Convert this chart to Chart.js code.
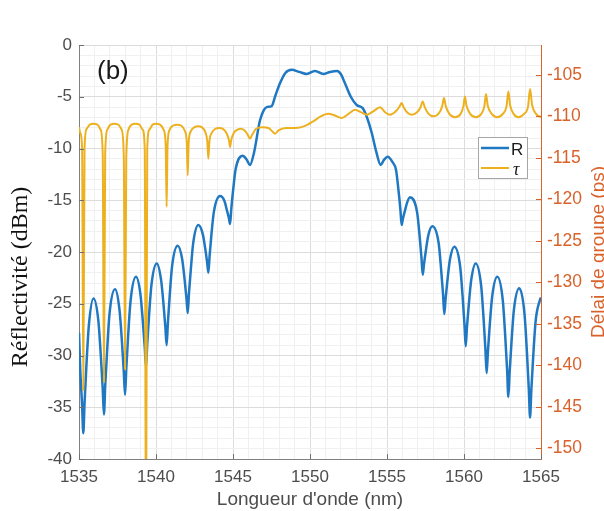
<!DOCTYPE html>
<html lang="fr">
<head>
  <meta charset="UTF-8" />
  <title>Réflectivité et délai de groupe</title>
  <script src="https://cdn.jsdelivr.net/npm/chart.js"></script>
  <style>
    body {
      margin: 0;
      background-color: #ffffff;
    }

    #wrap {
      width: 604px;
      height: 511px;
    }
  </style>
</head>
<body>

  <div id="wrap">
    <canvas id="fbgChart" width="604" height="511"></canvas>
  </div>

  <script>
    // Réflectivité R (dBm) - longueur d'onde (nm)
    const rWavelength = [
      1535.00, 1535.08, 1535.20, 1535.28, 1535.36, 1535.48, 1535.64, 1535.94,
      1536.26, 1536.42, 1536.54, 1536.62, 1536.70, 1536.82, 1536.98, 1537.34,
      1537.63, 1537.79, 1537.91, 1537.99, 1538.07, 1538.19, 1538.35, 1538.70,
      1538.99, 1539.15, 1539.27, 1539.35, 1539.43, 1539.55, 1539.71, 1540.05,
      1540.33, 1540.49, 1540.61, 1540.69, 1540.77, 1540.89, 1541.05, 1541.41,
      1541.70, 1541.86, 1541.98, 1542.06, 1542.14, 1542.26, 1542.42, 1542.75,
      1543.04, 1543.20, 1543.32, 1543.40, 1543.48, 1543.60, 1543.76, 1544.16,
      1544.45, 1544.61, 1544.73, 1544.81, 1544.89, 1545.01, 1545.17, 1545.63,
      1545.90, 1546.10, 1546.35, 1546.75, 1547.00, 1547.19, 1547.51,
      1547.75, 1548.05, 1548.40, 1548.81, 1549.30, 1549.79, 1550.32, 1550.86,
      1551.30, 1551.77, 1552.00, 1552.27, 1552.65, 1553.03, 1553.42, 1553.70,
      1554.01, 1554.30, 1554.59, 1554.80, 1555.05,
      1555.35, 1555.59, 1555.75, 1555.87, 1555.95, 1556.03, 1556.15, 1556.31, 1556.49,
      1556.96, 1557.12, 1557.24, 1557.32, 1557.40, 1557.52, 1557.68, 1557.94,
      1558.36, 1558.52, 1558.64, 1558.72, 1558.80, 1558.92, 1559.08, 1559.37,
      1559.75, 1559.91, 1560.03, 1560.11, 1560.19, 1560.31, 1560.47, 1560.76,
      1561.11, 1561.27, 1561.39, 1561.47, 1561.55, 1561.67, 1561.83, 1562.16,
      1562.52, 1562.68, 1562.80, 1562.88, 1562.96, 1563.08, 1563.24, 1563.59,
      1563.93, 1564.09, 1564.21, 1564.29, 1564.37, 1564.49, 1564.65, 1564.94, 1565.00
    ];
    const rValues = [
      -27.8, -31.3, -34.8, -37.5, -34.6, -31.0, -27.1, -24.5,
      -26.7, -30.1, -33.2, -35.7, -33.0, -29.7, -26.0, -23.6,
      -25.6, -28.7, -31.6, -33.8, -31.3, -28.1, -24.7, -22.4,
      -24.1, -26.8, -29.2, -31.1, -28.9, -26.1, -23.1, -21.1,
      -22.7, -25.1, -27.3, -29.0, -26.9, -24.2, -21.3, -19.4,
      -20.7, -22.7, -24.5, -25.9, -24.0, -21.7, -19.1, -17.4,
      -18.3, -19.7, -21.0, -22.0, -20.4, -18.3, -16.1, -14.6,
      -15.1, -16.0, -16.7, -17.3, -15.8, -14.0, -12.0, -10.7,
      -11.1, -11.6, -10.5, -7.3, -6.3, -6.0, -5.9,
      -4.9, -3.7, -2.7, -2.4, -2.6, -2.8, -2.5, -2.8,
      -2.6, -2.5, -2.8, -3.7, -5.0, -5.8, -6.1, -7.0,
      -8.5, -10.3, -11.6, -11.1, -10.8,
      -11.3, -12.1, -14.1, -15.9, -17.4, -16.8, -16.1, -15.2, -14.7,
      -16.2, -18.5, -20.6, -22.2, -21.2, -19.9, -18.4, -17.5,
      -19.2, -21.8, -24.1, -26.0, -24.6, -22.8, -20.8, -19.5,
      -21.4, -24.3, -27.0, -29.1, -27.3, -25.1, -22.7, -21.1,
      -23.2, -26.4, -29.4, -31.7, -29.7, -27.1, -24.3, -22.4,
      -24.7, -28.2, -31.4, -34.0, -31.7, -28.8, -25.6, -23.5,
      -26.0, -29.8, -33.3, -36.0, -33.4, -30.2, -26.7, -24.6, -24.4
    ];

    // Délai de groupe tau (ps) - longueur d'onde (nm)
    const tauWavelength = [
      1535.00, 1535.08, 1535.20, 1535.28, 1535.36, 1535.50, 1535.70, 1535.95,
      1536.20, 1536.40, 1536.54, 1536.62, 1536.70, 1536.84, 1537.05, 1537.30,
      1537.55, 1537.77, 1537.91, 1537.99, 1538.07, 1538.21, 1538.42, 1538.68,
      1538.92, 1539.13, 1539.27, 1539.35, 1539.43, 1539.57, 1539.78, 1540.02,
      1540.26, 1540.49, 1540.63, 1540.69, 1540.75, 1540.89, 1541.12, 1541.38,
      1541.62, 1541.86, 1542.00, 1542.06, 1542.12, 1542.26, 1542.50, 1542.73,
      1542.96, 1543.20, 1543.33, 1543.40, 1543.47, 1543.62, 1543.85, 1544.10,
      1544.35, 1544.60, 1544.74, 1544.81, 1544.88, 1545.05, 1545.30, 1545.50,
      1545.75, 1545.95, 1546.10, 1546.25, 1546.50, 1546.90, 1547.30, 1547.55,
      1547.73, 1547.95, 1548.45, 1549.00, 1549.45, 1549.85, 1550.21, 1550.70,
      1551.19, 1551.62, 1552.06, 1552.50, 1552.92, 1553.30, 1553.68, 1554.10,
      1554.55, 1554.87, 1555.19, 1555.62, 1555.82, 1555.95, 1556.08, 1556.30,
      1556.60, 1556.95, 1557.18, 1557.32, 1557.45, 1557.70, 1558.01, 1558.38,
      1558.58, 1558.70, 1558.82, 1559.05, 1559.42, 1559.78, 1559.96, 1560.06,
      1560.16, 1560.40, 1560.78, 1561.12, 1561.32, 1561.43, 1561.54, 1561.80,
      1562.16, 1562.52, 1562.76, 1562.88, 1563.00, 1563.22, 1563.53, 1563.90,
      1564.16, 1564.29, 1564.42, 1564.68, 1565.00
    ];
    const tauValues = [
      -111.3, -112.0, -113.8, -143.0, -113.8, -111.5, -111.0, -110.9,
      -111.0, -111.6, -114.5, -142.0, -114.5, -111.6, -111.0, -110.9,
      -111.0, -111.6, -115.0, -140.5, -115.0, -111.6, -111.0, -110.9,
      -111.0, -111.6, -114.0, -165.0, -114.0, -111.6, -111.0, -110.9,
      -111.0, -111.6, -113.5, -120.9, -113.5, -111.6, -111.1, -111.0,
      -111.1, -111.7, -113.2, -117.1, -113.2, -111.8, -111.3, -111.2,
      -111.3, -111.9, -113.0, -115.1, -113.0, -112.0, -111.5, -111.4,
      -111.5, -112.1, -112.9, -113.7, -112.9, -112.0, -111.6, -111.5,
      -111.7, -112.2, -112.7, -112.2, -111.5, -111.3, -111.4, -111.8,
      -112.1, -111.7, -111.4, -111.4, -111.3, -111.0, -110.6, -110.0,
      -109.7, -109.9, -110.2, -109.7, -109.2, -109.5, -109.8, -109.4,
      -108.9, -109.5, -109.8, -109.3, -108.8, -108.4, -108.9, -109.5,
      -109.8, -109.5, -108.9, -108.2, -108.9, -109.7, -110.0, -109.6,
      -108.8, -107.8, -108.8, -109.7, -110.1, -109.7, -108.8, -107.6,
      -108.7, -109.7, -110.1, -109.7, -108.8, -107.3, -108.7, -109.7,
      -110.1, -109.7, -108.8, -107.0, -108.7, -109.7, -110.1, -109.7,
      -108.8, -106.7, -108.6, -109.7, -110.1
    ];

    const xTickLabels = [1535, 1540, 1545, 1550, 1555, 1560, 1565];
    const leftTickLabels = [0, -5, -10, -15, -20, -25, -30, -35, -40];
    const rightTickLabels = [-105, -110, -115, -120, -125, -130, -135, -140, -145, -150];

    const blue = '#1f78c1';
    const yellow = '#EDB120';
    const orangeAxis = '#d9622b';
    const axisGray = '#808080';
    const labelGray = '#4d4d4d';

    // minor grid every 1 unit
    const xGrid = [];
    for (let v = 1535; v <= 1565; v++) xGrid.push(v);
    const leftGrid = [];
    for (let v = 0; v >= -40; v--) leftGrid.push(v);

    const gridColor = (majors) => (ctx) =>
      ctx.tick && majors.includes(ctx.tick.value) ? '#dcdcdc' : '#f0f0f0';

    const overlay = {
      id: 'overlay',
      afterDraw(chart) {
        const c = chart.ctx;
        const a = chart.chartArea;
        const sx = chart.scales.x, sy = chart.scales.y, sy2 = chart.scales.y2;
        c.save();

        // inward tick marks
        c.lineWidth = 1;
        c.strokeStyle = '#707070';
        c.beginPath();
        xTickLabels.forEach(v => {
          const px = Math.round(sx.getPixelForValue(v)) + 0.5;
          c.moveTo(px, a.bottom);
          c.lineTo(px, a.bottom - 5);
        });
        leftTickLabels.forEach(v => {
          const py = Math.round(sy.getPixelForValue(v)) + 0.5;
          c.moveTo(a.left, py);
          c.lineTo(a.left + 5, py);
        });
        c.stroke();
        c.strokeStyle = orangeAxis;
        c.beginPath();
        rightTickLabels.forEach(v => {
          const py = Math.round(sy2.getPixelForValue(v)) + 0.5;
          c.moveTo(a.right, py);
          c.lineTo(a.right - 5, py);
        });
        c.stroke();

        // panel label
        c.fillStyle = '#1a1a1a';
        c.font = '26px "Liberation Sans", Arial, sans-serif';
        c.textAlign = 'left';
        c.textBaseline = 'alphabetic';
        c.fillText('(b)', 97, 79);

        // legend
        c.fillStyle = '#ffffff';
        c.fillRect(478.5, 137.5, 49, 41);
        c.strokeStyle = '#a6a6a6';
        c.lineWidth = 1;
        c.strokeRect(478.5, 137.5, 49, 41);
        c.lineWidth = 2.5;
        c.strokeStyle = blue;
        c.beginPath();
        c.moveTo(481, 148);
        c.lineTo(509, 148);
        c.stroke();
        c.strokeStyle = yellow;
        c.lineWidth = 2;
        c.beginPath();
        c.moveTo(481, 168);
        c.lineTo(509, 168);
        c.stroke();
        c.fillStyle = '#1a1a1a';
        c.font = '17px "Liberation Sans", Arial, sans-serif';
        c.fillText('R', 511, 155);
        c.font = 'italic 18px "Liberation Serif", "Times New Roman", serif';
        c.fillText('τ', 513, 175);

        // left axis title
        c.save();
        c.translate(27, 277);
        c.rotate(-Math.PI / 2);
        c.textAlign = 'center';
        c.fillStyle = '#111111';
        c.font = '24px "Liberation Serif", "Times New Roman", serif';
        c.fillText('Réflectivité (dBm)', 0, 0);
        c.restore();

        // right axis title (cut by the picture edge)
        c.save();
        c.translate(604, 252);
        c.rotate(-Math.PI / 2);
        c.textAlign = 'center';
        c.fillStyle = orangeAxis;
        c.font = '19px "Liberation Sans", Arial, sans-serif';
        c.fillText('Délai de groupe (ps)', 0, 0);
        c.restore();

        // x axis title
        c.textAlign = 'center';
        c.fillStyle = labelGray;
        c.font = '19px "Liberation Sans", Arial, sans-serif';
        c.fillText("Longueur d'onde (nm)", (a.left + a.right) / 2, 505);

        c.restore();
      }
    };

    const ctx = document.getElementById('fbgChart').getContext('2d');

    const fbgChart = new Chart(ctx, {
      type: 'line',
      data: {
        datasets: [
          {
            label: 'R',
            data: rWavelength.map((w, i) => ({ x: w, y: rValues[i] })),
            borderColor: blue,
            borderWidth: 2.5,
            pointRadius: 0,
            cubicInterpolationMode: 'monotone',
            yAxisID: 'y',
            order: 2
          },
          {
            label: 'τ',
            data: tauWavelength.map((w, i) => ({ x: w, y: tauValues[i] })),
            borderColor: yellow,
            borderWidth: 2,
            pointRadius: 0,
            cubicInterpolationMode: 'monotone',
            yAxisID: 'y2',
            order: 1
          }
        ]
      },
      options: {
        responsive: false,
        animation: false,
        devicePixelRatio: 1,
        layout: { padding: { top: 45, left: 0, right: 0, bottom: 0 } },
        plugins: {
          legend: { display: false },
          tooltip: { enabled: false }
        },
        scales: {
          x: {
            type: 'linear',
            min: 1535,
            max: 1565,
            afterBuildTicks: s => { s.ticks = xGrid.map(v => ({ value: v })); },
            afterFit: s => { s.height = 52; },
            ticks: {
              autoSkip: false,
              maxRotation: 0,
              minRotation: 0,
              padding: 8,
              color: labelGray,
              font: { family: '"Liberation Sans", Arial, sans-serif', size: 17 },
              callback: v => xTickLabels.includes(v) ? String(v) : ''
            },
            grid: { color: gridColor(xTickLabels), drawTicks: false },
            border: { color: axisGray, width: 1 }
          },
          y: {
            type: 'linear',
            position: 'left',
            min: -40,
            max: 0,
            afterBuildTicks: s => { s.ticks = leftGrid.map(v => ({ value: v })); },
            afterFit: s => { s.width = 79; },
            ticks: {
              autoSkip: false,
              padding: 7,
              color: labelGray,
              font: { family: '"Liberation Sans", Arial, sans-serif', size: 17 },
              callback: v => leftTickLabels.includes(v) ? String(v) : ''
            },
            grid: { color: gridColor(leftTickLabels), drawTicks: false },
            border: { color: axisGray, width: 1 }
          },
          y2: {
            type: 'linear',
            position: 'right',
            min: -151.3,
            max: -101.4,
            afterBuildTicks: s => { s.ticks = rightTickLabels.map(v => ({ value: v })); },
            afterFit: s => { s.width = 63; },
            ticks: {
              autoSkip: false,
              padding: 6,
              color: orangeAxis,
              font: { family: '"Liberation Sans", Arial, sans-serif', size: 17.5 }
            },
            grid: { drawOnChartArea: false, drawTicks: false },
            border: { color: orangeAxis, width: 1 }
          }
        }
      },
      plugins: [overlay]
    });
  </script>

</body>
</html>
